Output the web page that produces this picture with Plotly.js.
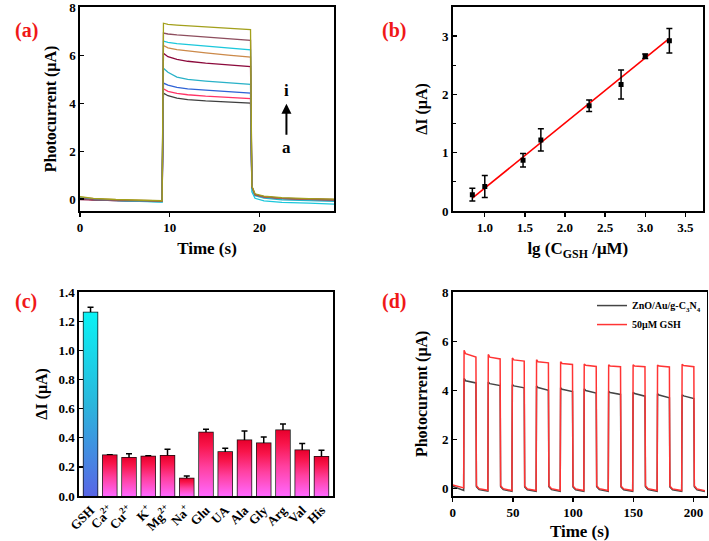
<!DOCTYPE html>
<html><head><meta charset="utf-8">
<script src="https://cdn.plot.ly/plotly-3.0.1.min.js"></script>
<style>html,body{margin:0;padding:0;background:#fff}</style>
</head><body><div id="chart" style="width:709px;height:541px"></div>
<script>
// ---------- (a) transient photocurrent, curves a..i ----------
const timeA = [0, 1.5, 4, 7, 9.15, 9.3, 9.8, 10.8, 12, 14, 16.5, 19.0, 19.15, 19.5, 20.5, 22.5, 25.5, 28.3];
const curveA_a = [0.04, -0.02, -0.06, -0.08, -0.1, 4.43, 4.32, 4.22, 4.16, 4.1, 4.05, 4.01, 0.5, 0.18, 0.09, 0.03, -0.01, -0.04];
const curveA_b = [0.02, -0.03, -0.07, -0.09, -0.11, 4.61, 4.5, 4.42, 4.36, 4.3, 4.25, 4.2, 0.5, 0.18, 0.09, 0.03, -0.01, -0.04];
const curveA_c = [0.05, -0.01, -0.05, -0.08, -0.1, 4.85, 4.76, 4.67, 4.61, 4.55, 4.49, 4.43, 0.5, 0.17, 0.08, 0.02, -0.02, -0.05];
const curveA_d = [0.06, 0.0, -0.05, -0.08, -0.12, 5.47, 5.3, 5.1, 5.0, 4.93, 4.86, 4.79, 0.45, 0.14, 0.04, -0.03, -0.07, -0.1];
const curveA_e = [-0.02, -0.05, -0.07, -0.08, -0.09, 6.1, 5.95, 5.84, 5.76, 5.68, 5.6, 5.54, 0.5, 0.18, 0.09, 0.03, -0.01, -0.03];
const curveA_f = [0.08, 0.02, -0.03, -0.06, -0.08, 6.42, 6.32, 6.25, 6.19, 6.11, 6.02, 5.93, 0.5, 0.18, 0.09, 0.03, -0.01, -0.03];
const curveA_g = [0.05, -0.02, -0.07, -0.1, -0.13, 6.6, 6.55, 6.5, 6.46, 6.4, 6.32, 6.24, 0.3, 0.03, -0.08, -0.14, -0.17, -0.21];
const curveA_h = [0.03, -0.03, -0.06, -0.08, -0.1, 6.94, 6.9, 6.86, 6.83, 6.78, 6.7, 6.63, 0.5, 0.18, 0.1, 0.04, 0.0, -0.02];
const curveA_i = [0.1, 0.03, -0.02, -0.05, -0.07, 7.35, 7.3, 7.27, 7.24, 7.2, 7.15, 7.08, 0.55, 0.22, 0.12, 0.06, 0.02, 0.0];
const colorsA = ['#3f3f3f', '#ff3366', '#2f63d6', '#2ab2c8', '#8c0a3c', '#cc8a4a', '#1cc8dc', '#8e4e5e', '#a3a01c'];

// ---------- (b) calibration ----------
const lgC = [0.845, 1.0, 1.477, 1.699, 2.301, 2.699, 3.0, 3.301];
const deltaI = [0.28, 0.42, 0.87, 1.22, 1.805, 2.17, 2.655, 2.92];
const deltaIErr = [0.11, 0.19, 0.115, 0.19, 0.1, 0.25, 0.04, 0.21];
const fitX = [0.845, 3.301];
const fitY = [0.22, 2.96];

// ---------- (c) selectivity ----------
const speciesLabels = ['GSH', 'Ca<sup>2+</sup>', 'Cu<sup>2+</sup>', 'K<sup>+</sup>', 'Mg<sup>2+</sup>', 'Na<sup>+</sup>', 'Glu', 'UA', 'Ala', 'Gly', 'Arg', 'Val', 'His'];
const speciesValues = [1.26, 0.28, 0.262, 0.272, 0.276, 0.12, 0.436, 0.302, 0.382, 0.363, 0.452, 0.315, 0.27];
const speciesErr = [0.037, 0.004, 0.028, 0.005, 0.045, 0.017, 0.023, 0.026, 0.064, 0.043, 0.043, 0.045, 0.045];

// ---------- (d) stability, on/off cycles ----------
const riseD = [9.2, 29.3, 49.3, 69.4, 89.4, 109.0, 129.3, 149.6, 169.9, 190.3];
const fallD = [19.4, 39.5, 59.5, 79.6, 99.6, 119.3, 139.5, 159.8, 180.1, 200.4];
const peakRed = [5.64, 5.47, 5.33, 5.26, 5.17, 5.08, 5.05, 5.05, 5.04, 5.07];
const platRed = [5.5, 5.36, 5.25, 5.17, 5.1, 5.03, 5.0, 5.0, 5.0, 5.02];
const endRed = [5.37, 5.29, 5.2, 5.13, 5.06, 4.98, 4.97, 4.97, 4.96, 4.97];
const offHiRed = [0.12, 0.12, 0.11, 0.12, 0.11, 0.12, 0.11, 0.12, 0.11, 0.12];
const offMidRed = [0.0, 0.0, -0.01, 0.0, -0.01, 0.0, -0.01, 0.0, -0.01, -0.01];
const offLoRed = [0.03, -0.07, -0.08, -0.08, -0.08, -0.08, -0.08, -0.08, -0.08, -0.08, -0.09];
const peakBlk = [4.49, 4.35, 4.24, 4.18, 4.11, 4.07, 3.97, 3.93, 3.87, 3.83];
const platBlk = [4.4, 4.28, 4.19, 4.12, 4.05, 4.0, 3.92, 3.88, 3.82, 3.78];
const endBlk = [4.31, 4.2, 4.11, 4.01, 3.96, 3.9, 3.84, 3.77, 3.7, 3.67];
const offHiBlk = [0.08, 0.08, 0.07, 0.08, 0.07, 0.08, 0.07, 0.08, 0.07, 0.08];
const offMidBlk = [-0.04, -0.04, -0.05, -0.04, -0.05, -0.04, -0.05, -0.04, -0.05, -0.05];
const offLoBlk = [-0.07, -0.1, -0.11, -0.11, -0.11, -0.11, -0.11, -0.11, -0.11, -0.11, -0.12];
const startRed = 0.15, startBlk = 0.1;

const FONT = 'Liberation Serif, Times New Roman, serif';
const f = (size, color) => ({family: FONT, size: size, color: color || '#000', weight: 700});

const traces = [];
// (a)
[curveA_a, curveA_b, curveA_c, curveA_d, curveA_e, curveA_f, curveA_g, curveA_h, curveA_i].forEach((c, k) => {
  traces.push({x: timeA, y: c, type: 'scatter', mode: 'lines', line: {color: colorsA[k], width: 1.3},
    xaxis: 'x', yaxis: 'y', showlegend: false, hoverinfo: 'skip'});
});
// (b)
traces.push({x: fitX, y: fitY, type: 'scatter', mode: 'lines', line: {color: '#ff0000', width: 1.6},
  xaxis: 'x2', yaxis: 'y2', showlegend: false});
traces.push({x: lgC, y: deltaI, type: 'scatter', mode: 'markers', marker: {symbol: 'square', size: 5, color: '#000'},
  error_y: {type: 'data', array: deltaIErr, color: '#000', thickness: 1.5, width: 3},
  xaxis: 'x2', yaxis: 'y2', showlegend: false});
// (c) gradient bodies
const barW = 0.72;
const idxC = speciesValues.map((v, i) => i);
speciesValues.forEach((v, i) => {
  const cs = i === 0 ? [[0, '#5866e6'], [0.5, '#2ab6dc'], [1, '#0af2f4']]
                     : [[0, '#ff68ff'], [0.45, '#ff40a0'], [0.8, '#f8144a'], [1, '#e8002c']];
  traces.push({x: [i - barW / 2, i + barW / 2, i + barW / 2, i - barW / 2, i - barW / 2], y: [0, 0, v, v, 0],
    type: 'scatter', mode: 'lines', fill: 'toself', line: {width: 0},
    fillcolor: i === 0 ? '#2ab6dc' : '#ff3a8a',
    fillgradient: {type: 'vertical', colorscale: cs},
    xaxis: 'x3', yaxis: 'y3', showlegend: false, hoverinfo: 'skip'});
});
traces.push({x: idxC, y: speciesValues, type: 'bar', width: barW,
  marker: {color: 'rgba(0,0,0,0)', line: {color: '#111', width: 1.5}},
  error_y: {type: 'data', array: speciesErr, color: '#000', thickness: 1.5, width: 3},
  xaxis: 'x3', yaxis: 'y3', showlegend: false});
// (d)
function train(start, peak, plat, end, hi, mid, lo) {
  const x = [0], y = [start];
  for (let k = 0; k < riseD.length; k++) {
    x.push(riseD[k] - 0.1, riseD[k] + 0.25, riseD[k] + 1.5, fallD[k] - 0.1, fallD[k] + 0.3, fallD[k] + 2.5);
    y.push(lo[k], peak[k], plat[k], end[k], hi[k], mid[k]);
  }
  x.push(209.5); y.push(lo[riseD.length]);
  return {x, y};
}
const blk = train(startBlk, peakBlk, platBlk, endBlk, offHiBlk, offMidBlk, offLoBlk);
const red = train(startRed, peakRed, platRed, endRed, offHiRed, offMidRed, offLoRed);
traces.push({x: blk.x, y: blk.y, type: 'scatter', mode: 'lines', line: {color: '#444', width: 1.5},
  name: 'ZnO/Au/g-C<sub>3</sub>N<sub>4</sub>', xaxis: 'x4', yaxis: 'y4'});
traces.push({x: red.x, y: red.y, type: 'scatter', mode: 'lines', line: {color: '#ff3434', width: 1.5},
  name: '50μM GSH', xaxis: 'x4', yaxis: 'y4'});

const axBase = {showline: true, mirror: true, linecolor: '#000', linewidth: 1.6, showgrid: false, zeroline: false,
  tickfont: f(13), ticklen: 4, tickwidth: 1.3, tickcolor: '#000'};
const xd = (o) => Object.assign({}, axBase, {ticks: 'outside'}, o);
const yd = (o) => Object.assign({}, axBase, {ticks: 'inside'}, o);

const layout = {
  width: 709, height: 541, margin: {l: 0, r: 0, t: 0, b: 0},
  paper_bgcolor: '#fff', plot_bgcolor: '#fff', font: f(13),
  xaxis: xd({domain: [0.1128, 0.4711], anchor: 'y', range: [0, 28.3], tickvals: [0, 10, 20],
    title: {text: 'Time (s)', font: f(17), standoff: 8}}),
  yaxis: yd({domain: [0.61, 0.9871], anchor: 'x', range: [-0.5, 8.03], tickvals: [0, 2, 4, 6, 8],
    title: {text: 'Photocurrent (μA)', font: f(16), standoff: 8}}),
  xaxis2: xd({domain: [0.6385, 0.9915], anchor: 'y2', range: [0.6, 3.72], tickvals: [1, 1.5, 2, 2.5, 3, 3.5], tickformat: '.1f',
    title: {text: 'lg (C<sub>GSH</sub> /μM)', font: f(17), standoff: 8}}),
  yaxis2: yd({domain: [0.61, 0.9871], anchor: 'x2', range: [0, 3.5], dtick: 1,
    minor: {dtick: 0.5, ticks: 'inside', ticklen: 3, tickcolor: '#000'},
    title: {text: 'ΔI (μA)', font: f(16), standoff: 10}}),
  xaxis3: Object.assign({}, axBase, {domain: [0.1114, 0.4697], anchor: 'y3', range: [-0.6, 12.6],
    tickvals: idxC, ticktext: speciesLabels, tickangle: -45, ticks: ''}),
  yaxis3: yd({domain: [0.0832, 0.4608], anchor: 'x3', range: [0, 1.403], dtick: 0.2, tickformat: '.1f',
    title: {text: 'ΔI (μA)', font: f(16), standoff: 7}}),
  xaxis4: xd({domain: [0.6385, 0.9968], anchor: 'y4', range: [0, 211], dtick: 50,
    title: {text: 'Time (s)', font: f(17), standoff: 8}}),
  yaxis4: yd({domain: [0.0832, 0.4608], anchor: 'x4', range: [-0.3, 8.03], tickvals: [0, 2, 4, 6, 8],
    title: {text: 'Photocurrent (μA)', font: f(16), standoff: 10}}),
  legend: {x: 0.835, y: 0.462, xanchor: 'left', yanchor: 'top', bgcolor: 'rgba(0,0,0,0)', font: f(10),
    itemwidth: 30, tracegroupgap: 0},
  annotations: [
    {text: '(a)', x: 0.018, y: 0.9686, xref: 'paper', yref: 'paper', showarrow: false, font: f(20, '#f01818')},
    {text: '(b)', x: 0.5557, y: 0.9686, xref: 'paper', yref: 'paper', showarrow: false, font: f(20, '#f01818')},
    {text: '(c)', x: 0.018, y: 0.4436, xref: 'paper', yref: 'paper', showarrow: false, font: f(20, '#f01818')},
    {text: '(d)', x: 0.5557, y: 0.4418, xref: 'paper', yref: 'paper', showarrow: false, font: f(20, '#f01818')},
    {text: '', x: 23, y: 3.98, ax: 23, ay: 2.63, xref: 'x', yref: 'y', axref: 'x', ayref: 'y',
      showarrow: true, arrowhead: 2, arrowsize: 1, arrowwidth: 2, arrowcolor: '#000'},
    {text: 'i', x: 23, y: 4.54, xref: 'x', yref: 'y', showarrow: false, font: f(17)},
    {text: 'a', x: 23, y: 2.14, xref: 'x', yref: 'y', showarrow: false, font: f(17)}
  ]
};
Plotly.newPlot('chart', traces, layout, {displayModeBar: false, staticPlot: true});
</script></body></html>
